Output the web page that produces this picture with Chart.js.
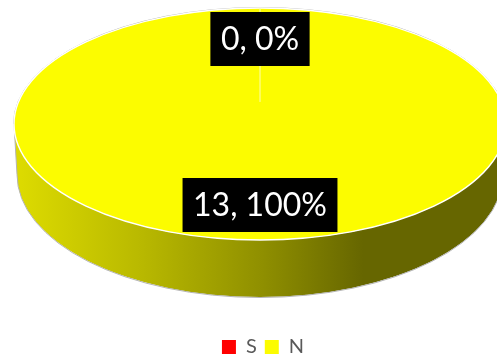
<!DOCTYPE html>
<html>
<head>
<meta charset="utf-8">
<style>
  html, body { margin: 0; padding: 0; background: #fff; }
  canvas { display: block; }
</style>
<script src="https://cdn.jsdelivr.net/npm/chart.js@4/dist/chart.umd.min.js"></script>
</head>
<body>
<canvas id="pie3d" width="497" height="358"></canvas>
<script>
const categories = ['S', 'N'];
const counts = [0, 13];
const sliceColors = ['#ff0000', '#fcfc00'];

// look of the tilted pie
const centerX = 260;
const centerY = 124;
const tilt = 116 / 246;
const baseCenterY = 174;
const baseRx = 243;
const baseRy = 123;
const labelCenters = [39, 205];

function arcOf(chart) {
  return chart.getDatasetMeta(0).data[1];
}

// squashes the round pie to an ellipse and draws the side wall under it
const tiltPlugin = {
  id: 'tilt',
  beforeDatasetsDraw(chart) {
    const ctx = chart.ctx;
    const arc = arcOf(chart);
    const r = arc.outerRadius;

    // side wall
    const wall = ctx.createLinearGradient(centerX - r, 0, centerX + r, 0);
    wall.addColorStop(0, '#dedc00');
    wall.addColorStop(0.25, '#baba00');
    wall.addColorStop(0.5, '#909000');
    wall.addColorStop(0.71, '#666600');
    wall.addColorStop(1, '#666600');
    ctx.beginPath();
    ctx.ellipse(centerX, centerY, r, r * tilt, 0, Math.PI, 0, true);
    ctx.lineTo(centerX + baseRx, baseCenterY);
    ctx.ellipse(centerX, baseCenterY, baseRx, baseRy, 0, 0, Math.PI, false);
    ctx.closePath();
    ctx.fillStyle = wall;
    ctx.fill();

    // grey outline round the whole shape
    ctx.strokeStyle = '#b4b4b4';
    ctx.lineWidth = 1;
    ctx.beginPath();
    ctx.ellipse(centerX, baseCenterY + 0.5, baseRx, baseRy, 0, 0, Math.PI, false);
    ctx.lineTo(centerX - r, centerY);
    ctx.stroke();
    ctx.beginPath();
    ctx.ellipse(centerX, centerY, r + 0.5, r * tilt + 0.5, 0, Math.PI, 0, false);
    ctx.stroke();

    ctx.save();
    ctx.translate(centerX - arc.x, centerY);
    ctx.scale(1, tilt);
    ctx.translate(0, -arc.y);
  },
  afterDatasetsDraw(chart) {
    const ctx = chart.ctx;
    ctx.restore();
    const r = arcOf(chart).outerRadius;

    // white edge of the top face
    ctx.strokeStyle = '#ffffff';
    ctx.lineWidth = 1.4;
    ctx.beginPath();
    ctx.ellipse(centerX, centerY, r, r * tilt, 0, 0, Math.PI * 2);
    ctx.stroke();

    // the empty S slice only shows as a line
    ctx.strokeStyle = '#fdfdb0';
    ctx.lineWidth = 1;
    ctx.beginPath();
    ctx.moveTo(centerX, centerY - r * tilt);
    ctx.lineTo(centerX, centerY - r * tilt * 0.19);
    ctx.stroke();

    // value, percent labels
    const total = counts.reduce((a, b) => a + b, 0);
    ctx.font = '32px Lato';
    ctx.textAlign = 'center';
    ctx.textBaseline = 'middle';
    counts.forEach((v, i) => {
      const text = v + ', ' + Math.round(v / total * 100) + '%';
      const w = ctx.measureText(text).width + 21;
      ctx.fillStyle = '#000000';
      ctx.fillRect(centerX - w / 2, labelCenters[i] - 27, w, 54);
      ctx.fillStyle = '#ffffff';
      ctx.fillText(text, centerX, labelCenters[i] + 1);
    });
  }
};

new Chart(document.getElementById('pie3d'), {
  type: 'pie',
  data: {
    labels: categories,
    datasets: [{
      data: counts,
      backgroundColor: sliceColors,
      borderWidth: 0,
      radius: 246,
      clip: false
    }]
  },
  options: {
    responsive: false,
    animation: false,
    layout: { padding: { left: 29, bottom: -9 } },
    plugins: {
      tooltip: { enabled: false },
      legend: {
        position: 'bottom',
        labels: {
          color: '#595959',
          boxWidth: 14,
          boxHeight: 14,
          padding: 8,
          font: { family: 'Lato', size: 20 }
        }
      }
    }
  },
  plugins: [tiltPlugin]
});
</script>
</body>
</html>
